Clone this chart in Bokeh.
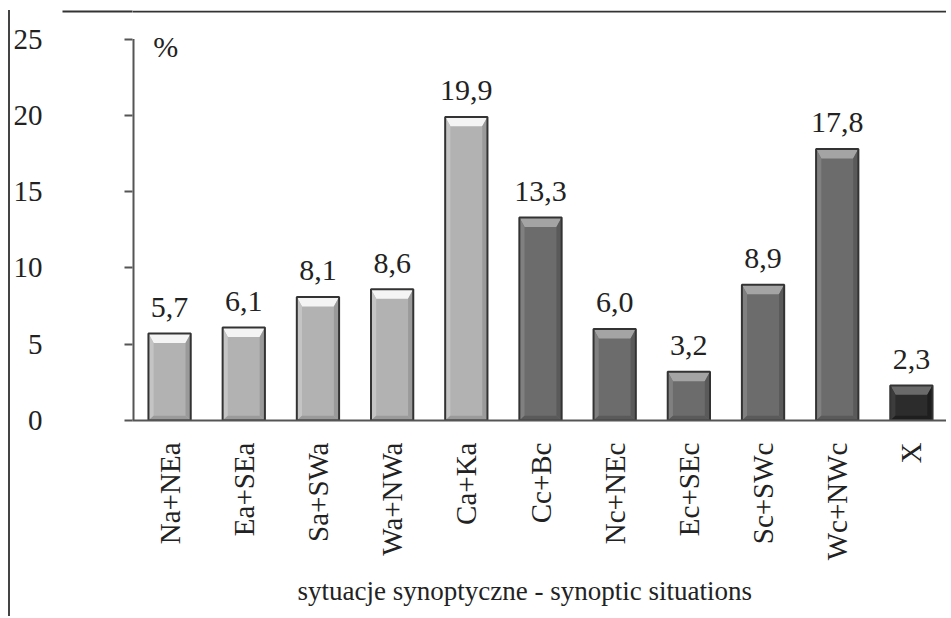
import numpy as np
from bokeh.plotting import figure
from bokeh.models import FactorRange, Range1d, FixedTicker, ColumnDataSource, Label, Title, Span
from bokeh.core.properties import value
from bokeh.embed import file_html
from bokeh.resources import INLINE

categories = ["Na+NEa", "Ea+SEa", "Sa+SWa", "Wa+NWa", "Ca+Ka", "Cc+Bc",
              "Nc+NEc", "Ec+SEc", "Sc+SWc", "Wc+NWc", "X"]
values = [5.7, 6.1, 8.1, 8.6, 19.9, 13.3, 6.0, 3.2, 8.9, 17.8, 2.3]
value_labels = ["5,7", "6,1", "8,1", "8,6", "19,9", "13,3", "6,0", "3,2", "8,9", "17,8", "2,3"]
groups = ["a", "a", "a", "a", "a", "c", "c", "c", "c", "c", "x"]
y_ticks = [0, 5, 10, 15, 20, 25]
x_title = "sytuacje synoptyczne - synoptic situations"

fill = {"a": "#b2b2b2", "c": "#6c6c6c", "x": "#2c2c2c"}
hi = {"a": "#f4f4f4", "c": "#a4a4a4", "x": "#6a6a6a"}
side_l = {"a": "#c4c4c4", "c": "#808080", "x": "#3c3c3c"}
side_r = {"a": "#9a9a9a", "c": "#5a5a5a", "x": "#1e1e1e"}

FONT = "Liberation Serif"

# layout geometry (pixels)
H, TOP, BOTTOM = 606, 0, 190
AXIS_PX = 387                       # pixels from 0 to 25 on the value axis
frame_h = H - TOP - BOTTOM
y_max = max(y_ticks)
y_end = y_max * frame_h / AXIS_PX   # frame reaches up to the picture's top edge
px = y_max / AXIS_PX
frame_y = y_end - 1.0 * px          # level of the picture frame's top edge

p = figure(x_range=FactorRange(factors=categories, range_padding=0),
           y_range=Range1d(0, y_end),
           width=938, height=H, output_backend="svg", toolbar_location=None,
           min_border_left=68, min_border_right=0, min_border_top=TOP, min_border_bottom=BOTTOM,
           margin=(10, 0, 0, 8))
p.styles = {"border-left": "2px solid #444444"}
p.outline_line_color = None
p.xgrid.grid_line_color = None
p.ygrid.grid_line_color = None
p.background_fill_color = "white"
p.border_fill_color = "white"

# top edge of the picture frame (inside the plot area)
p.add_layout(Span(location=frame_y, dimension="width",
                  line_color="#333333", line_width=2))

bw = 0.57
xc = np.arange(len(categories)) + 0.5
src = ColumnDataSource(dict(x=categories, top=values, lab=value_labels,
                            col=[fill[g] for g in groups]))

# bevel pieces computed from values
bev_y = 0.62   # data units (~10 px)
bev_x = 0.07   # category units (~5 px)
tops_x, tops_y, tops_c = [], [], []
ls_x, ls_y, ls_c = [], [], []
rs_x, rs_y, rs_c = [], [], []
bs_x, bs_y, bs_c = [], [], []
for c, v, g in zip(xc, values, groups):
    l, r = c - bw / 2, c + bw / 2
    tops_x.append([l, r, r - bev_x, l + bev_x]); tops_y.append([v, v, v - bev_y, v - bev_y]); tops_c.append(hi[g])
    ls_x.append([l, l + bev_x, l + bev_x, l]); ls_y.append([v, v - bev_y, bev_y * 0.5, 0]); ls_c.append(side_l[g])
    rs_x.append([r, r - bev_x, r - bev_x, r]); rs_y.append([v, v - bev_y, bev_y * 0.5, 0]); rs_c.append(side_r[g])
    bs_x.append([l, r, r - bev_x, l + bev_x]); bs_y.append([0, 0, bev_y * 0.5, bev_y * 0.5]); bs_c.append(side_r[g])

p.vbar(x="x", top="top", bottom=0, width=bw, source=src, fill_color="col", line_color=None)
p.patches(tops_x, tops_y, fill_color=tops_c, line_color=None)
p.patches(ls_x, ls_y, fill_color=ls_c, line_color=None)
p.patches(rs_x, rs_y, fill_color=rs_c, line_color=None)
p.patches(bs_x, bs_y, fill_color=bs_c, line_color=None)
p.vbar(x="x", top="top", bottom=0, width=bw, source=src, fill_color=None,
       line_color="#333333", line_width=2)

# value-axis line only from 0 to 25 (drawn on the plot edge)
p.segment(x0=[0], y0=[min(y_ticks)], x1=[0], y1=[y_max], line_color="#555555", line_width=4)

p.text(x="x", y="top", text="lab", source=src, text_align="center", text_baseline="alphabetic",
       y_offset=-26, text_font=value(FONT), text_font_size="30px", text_color="#222222")

p.add_layout(Label(x=0.28, y=24.5, text="%", text_baseline="middle", text_align="left",
                   text_font=FONT, text_font_size="30px", text_color="#222222"))

# axes; the one minor tick continues the frame's top edge to the left border
p.yaxis.ticker = FixedTicker(ticks=y_ticks, minor_ticks=[frame_y])
p.yaxis.axis_line_color = None
p.yaxis.major_tick_out = 8
p.yaxis.major_tick_in = 0
p.yaxis.minor_tick_out = 70
p.yaxis.minor_tick_in = 0
p.yaxis.minor_tick_line_color = "#333333"
p.yaxis.minor_tick_line_width = 2
p.yaxis.major_label_standoff = 20
p.yaxis.major_tick_line_color = "#555555"
p.yaxis.major_tick_line_width = 2
p.yaxis.major_label_text_font = FONT
p.yaxis.major_label_text_font_size = "29px"
p.yaxis.major_label_text_color = "#222222"

p.xaxis.major_tick_line_color = None
p.xaxis.minor_tick_line_color = None
p.xaxis.axis_line_color = "#555555"
p.xaxis.axis_line_width = 2
p.xaxis.major_label_orientation = np.pi / 2
p.xaxis.major_label_standoff = 16
p.xaxis.major_label_text_font = FONT
p.xaxis.major_label_text_font_size = "29px"
p.xaxis.major_label_text_color = "#222222"

# x title, placed under the whole chart area
p.add_layout(Title(text=x_title, align="left", offset=165, standoff=21,
                   text_font=FONT, text_font_style="normal", text_font_size="27px",
                   text_color="#222222"), "below")

open("out.html", "w").write(file_html(p, INLINE))
